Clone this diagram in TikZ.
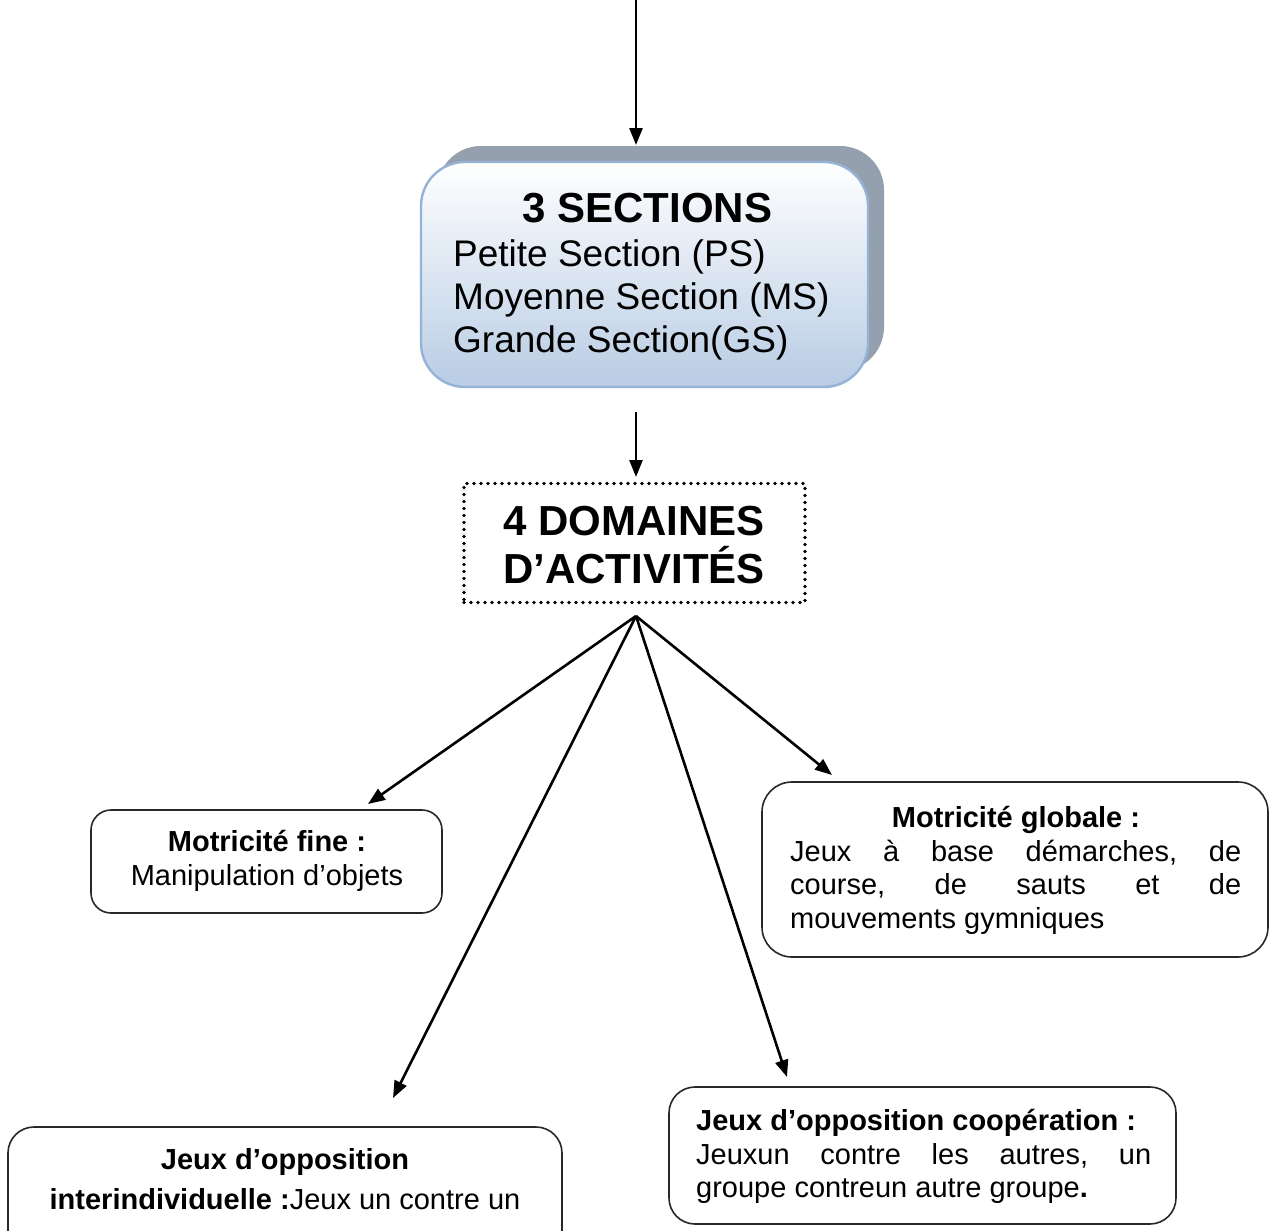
\documentclass[tikz,border=0pt]{standalone}
\usepackage{fontspec}
\setmainfont{Liberation Sans}
\usetikzlibrary{arrows.meta}
\definecolor{shadowc}{RGB}{149,160,174}
\definecolor{bluebot}{RGB}{184,204,228}
\definecolor{blueedge}{RGB}{149,179,215}
\definecolor{boxedge}{RGB}{40,40,40}
\begin{document}
\begin{tikzpicture}[x=1pt,y=-1pt,
  conn/.style={line width=2.6pt,-{Triangle[length=17pt,width=13pt]}},
  roundbox/.style={draw=boxedge,line width=1.6pt,rounded corners=24pt},
  txt/.style={inner sep=0pt,anchor=base},
  txtl/.style={inner sep=0pt,anchor=base west},
  big/.style={font=\fontsize{37}{43}\selectfont},
  bigb/.style={font=\fontsize{42}{48}\selectfont\bfseries},
  norm/.style={font=\fontsize{29}{34}\selectfont},
  normb/.style={font=\fontsize{29}{34}\selectfont\bfseries}]
\useasboundingbox (0,0) rectangle (1269,1231);
\fill[white] (0,0) rectangle (1269,1231);

% 3 SECTIONS box with shadow
\fill[shadowc,rounded corners=44pt] (437,146) rectangle (884,371);
\node[draw=blueedge,line width=2.4pt,rounded corners=44pt,top color=white,bottom color=bluebot,
      minimum width=447pt,minimum height=225pt,inner sep=0pt] (sections) at (644.5,274.5) {};
\node[txt,bigb] (sectitle) at (647.5,222) {3 SECTIONS};
\node[txtl,big] (ps) at (453,266) {Petite Section (PS)};
\node[txtl,big] (ms) at (453,309) {Moyenne Section (MS)};
\node[txtl,big] (gs) at (453,352) {Grande Section(GS)};

% top arrow
\coordinate (topstart) at (636,0);
\coordinate (topend) at (636,145);
\draw[conn] (topstart) -- (topend);

% 4 domaines box
\node[line width=3.6pt,dash pattern=on 0pt off 7pt,line cap=round,draw,
      minimum width=341pt,minimum height=119pt,inner sep=0pt] (domaines) at (634.5,543) {};
\node[txt,bigb] (dom1) at (634,535) {4 DOMAINES};
\node[txt,bigb] (dom2) at (634,583) {D’ACTIVITÉS};

\coordinate (midstart) at (636,412);
\coordinate (midend) at (636,477);
\draw[conn] (midstart) -- (midend);

% Motricite fine
\node[roundbox,rounded corners=20pt,minimum width=351pt,minimum height=103pt,inner sep=0pt] (fine) at (266.5,861.5) {};
\node[txt,normb] (finet) at (267,851) {Motricité fine :};
\node[txt,norm] (fineb) at (267,885) {Manipulation d’objets};

% Motricite globale
\node[roundbox,rounded corners=30pt,minimum width=506pt,minimum height=175pt,inner sep=0pt] (globale) at (1015,869.5) {};
\node[txt,normb] (globt) at (1016,827) {Motricité globale :};
\node[txtl,norm] (glob1) at (790,861) {\hbox to 451pt{Jeux\hfill à\hfill base\hfill démarches,\hfill de}};
\node[txtl,norm] (glob2) at (790,894) {\hbox to 451pt{course,\hfill de\hfill sauts\hfill et\hfill de}};
\node[txtl,norm] (glob3) at (790,928) {mouvements gymniques};

% Jeux d'opposition cooperation
\node[roundbox,rounded corners=26pt,minimum width=507pt,minimum height=137pt,inner sep=0pt] (coop) at (922.5,1155.5) {};
\node[txtl,normb] (coopt) at (696,1130) {Jeux d’opposition coopération :};
\node[txtl,norm] (coop1) at (696,1164) {\hbox to 455pt{Jeuxun\hfill contre\hfill les\hfill autres,\hfill un}};
\node[txtl,norm] (coop2) at (696,1197) {groupe contreun autre groupe\textbf{.}};

% Jeux d'opposition interindividuelle
\node[roundbox,rounded corners=26pt,minimum width=554pt,minimum height=143pt,inner sep=0pt] (inter) at (285,1198.5) {};
\node[txt,normb] (intert) at (285,1169) {Jeux d’opposition};
\node[txt,norm] (interb) at (285,1209) {\textbf{interindividuelle :}Jeux un contre un};

% fan of arrows
\coordinate (hub) at (636,616);
\coordinate (tfine) at (368,804);
\coordinate (tinter) at (393,1098);
\coordinate (tcoop) at (787,1077);
\coordinate (tglob) at (832,775);
\draw[conn] (hub) -- (tfine);
\draw[conn] (hub) -- (tinter);
\draw[conn] (hub) -- (tcoop);
\draw[conn] (hub) -- (tglob);
\end{tikzpicture}
\end{document}
